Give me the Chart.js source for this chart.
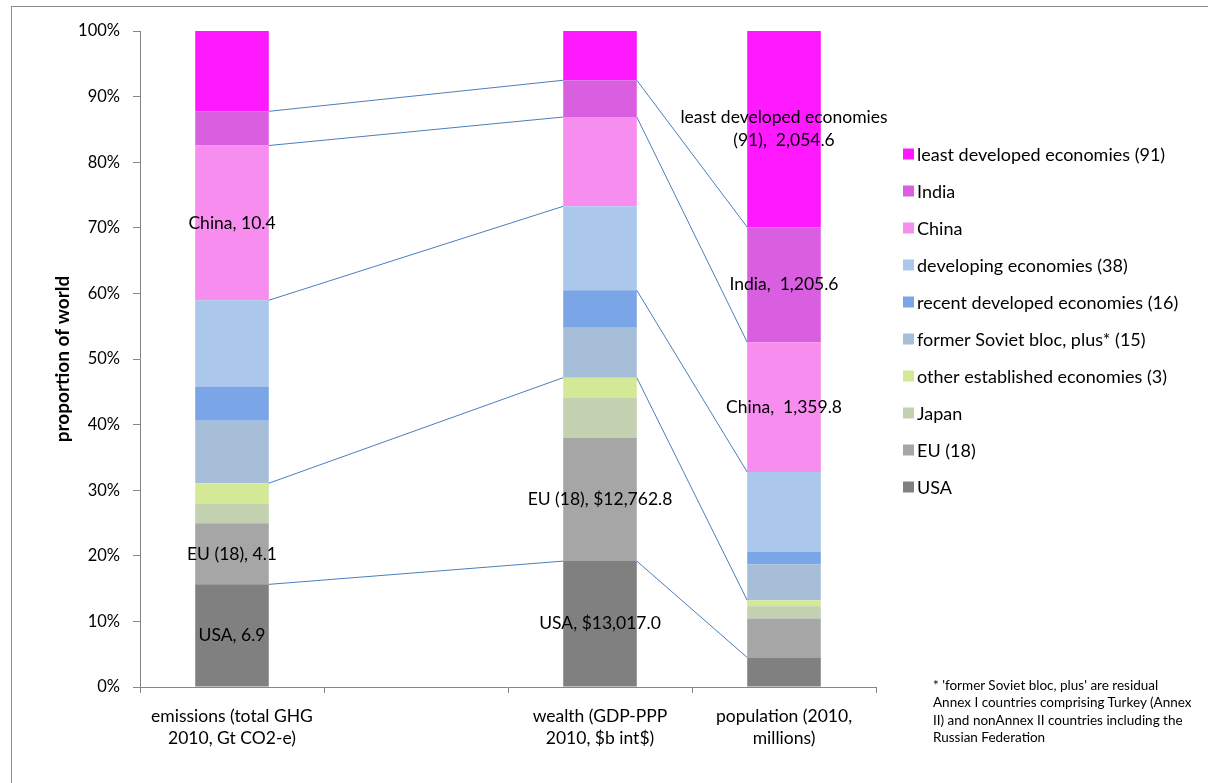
<!DOCTYPE html>
<html>
<head>
<meta charset="utf-8">
<script src="https://cdn.jsdelivr.net/npm/chart.js@4.4.1/dist/chart.umd.min.js"></script>
<style>
  html, body { margin: 0; padding: 0; background: #fff; }
  #wrap { position: relative; width: 1208px; height: 783px; overflow: hidden; }
  #frame { position: absolute; left: 11px; top: 6px; width: 1300px; height: 900px; border: 1px solid #8c8c8c; }
  #chart { position: absolute; left: 0; top: 0; }
  #note { position: absolute; left: 933px; top: 677px; font: 13.5px Lato, sans-serif; line-height: 17.4px; color: #000; white-space: nowrap; }
</style>
</head>
<body>
<div id="wrap">
  <div id="frame"></div>
  <canvas id="chart" width="1208" height="783"></canvas>
  <div id="note">* 'former Soviet bloc, plus' are residual<br>Annex I countries comprising Turkey (Annex<br>II) and nonAnnex II countries including the<br>Russian Federation</div>
</div>
<script>
// Three measures split by country group, each shown as a share of the world total.
// The second slot is left empty to open a gap between emissions and wealth.
const CATEGORIES = [
  ["emissions (total GHG", "2010, Gt CO2-e)"],
  "",
  ["wealth (GDP-PPP", "2010, $b int$)"],
  ["population (2010,", "millions)"],
];

// Groups from the bottom of each stack up.
const GROUPS = [
  "USA",
  "EU (18)",
  "Japan",
  "other established economies (3)",
  "former Soviet bloc, plus* (15)",
  "recent developed economies (16)",
  "developing economies (38)",
  "China",
  "India",
  "least developed economies (91)",
];
const COLORS = [
  "#808080", "#a6a6a6", "#c3d1b1", "#d4e996", "#a7bed8",
  "#7aa5e6", "#abc8ec", "#f68def", "#d95fe0", "#ff19ff",
];

// Raw values per group, same order as GROUPS.
const EMISSIONS = [6.9, 4.1, 1.3, 1.4, 4.2, 2.3, 5.8, 10.4, 2.3, 5.4];          // Gt CO2-e
const WEALTH = [13017.0, 12762.8, 4100, 2105, 5160, 3870, 8690, 9234, 3802, 5093]; // $b int$
const POPULATION = [309, 409, 128, 63, 378, 126, 839, 1359.8, 1205.6, 2054.6];   // millions

const COLUMNS = [EMISSIONS, null, WEALTH, POPULATION];
const FORMATS = [
  (v) => v.toFixed(1),
  null,
  (v) => "$" + v.toLocaleString("en-US", { minimumFractionDigits: 1, maximumFractionDigits: 1 }),
  (v) => " " + v.toLocaleString("en-US", { minimumFractionDigits: 1, maximumFractionDigits: 1 }),
];

// Segments that carry a value label: [group, column]
const LABELLED = [[0, 0], [1, 0], [7, 0], [0, 2], [1, 2], [7, 3], [8, 3], [9, 3]];

// Lines joining the top edge of a group in one column to another column:
// [fromColumn, fromGroup, toColumn, toGroup]
const LINKS = [
  [0, 0, 2, 0], [0, 3, 2, 3], [0, 6, 2, 6], [0, 7, 2, 7], [0, 8, 2, 8],
  [2, 0, 3, 0], [2, 3, 3, 3], [2, 5, 3, 6], [2, 7, 3, 7], [2, 8, 3, 8],
];

const FONT = "Lato";

const totals = COLUMNS.map((col) => (col ? col.reduce((a, b) => a + b, 0) : 0));
const datasets = GROUPS.map((name, g) => ({
  label: name,
  data: COLUMNS.map((col, c) => (col ? (col[g] / totals[c]) * 100 : null)),
  backgroundColor: COLORS[g],
  borderWidth: 0,
  categoryPercentage: 1,
  barPercentage: 0.4,
}));

function wrapText(ctx, text, maxWidth) {
  const words = text.split(" ");
  const lines = [];
  let line = "";
  words.forEach((w) => {
    const test = line ? line + " " + w : w;
    if (line && ctx.measureText(test).width > maxWidth) {
      lines.push(line);
      line = w;
    } else {
      line = test;
    }
  });
  if (line) lines.push(line);
  return lines;
}

const linksPlugin = {
  id: "links",
  afterDatasetsDraw(chart) {
    const { ctx } = chart;
    ctx.save();
    ctx.strokeStyle = "#4a7ebb";
    ctx.lineWidth = 1;
    LINKS.forEach(([c0, g0, c1, g1]) => {
      const a = chart.getDatasetMeta(g0).data[c0];
      const b = chart.getDatasetMeta(g1).data[c1];
      ctx.beginPath();
      ctx.moveTo(a.x + a.width / 2, a.y);
      ctx.lineTo(b.x - b.width / 2, b.y);
      ctx.stroke();
    });
    ctx.restore();
  },
};

const valueLabels = {
  id: "valueLabels",
  afterDatasetsDraw(chart) {
    const { ctx } = chart;
    ctx.save();
    ctx.font = `17.5px ${FONT}`;
    ctx.fillStyle = "#000";
    ctx.textAlign = "center";
    ctx.textBaseline = "middle";
    LABELLED.forEach(([g, c]) => {
      const bar = chart.getDatasetMeta(g).data[c];
      const text = `${GROUPS[g]}, ${FORMATS[c](COLUMNS[c][g])}`;
      const lines = wrapText(ctx, text, 225);
      const lh = 23;
      const cy = (bar.y + bar.base) / 2 - ((lines.length - 1) * lh) / 2;
      lines.forEach((l, i) => ctx.fillText(l, bar.x, cy + i * lh));
    });
    ctx.restore();
  },
};

// Legend on the right, top group first.
const sideLegend = {
  id: "sideLegend",
  afterDraw(chart) {
    const { ctx } = chart;
    ctx.save();
    ctx.font = `18px ${FONT}`;
    ctx.textBaseline = "middle";
    ctx.textAlign = "left";
    const x = 903, top = 154, step = 37;
    for (let i = GROUPS.length - 1, row = 0; i >= 0; i--, row++) {
      const y = top + row * step;
      ctx.fillStyle = COLORS[i];
      ctx.fillRect(x, y - 5.5, 11, 11);
      ctx.fillStyle = "#000";
      ctx.fillText(GROUPS[i], x + 14, y + 1);
    }
    ctx.restore();
  },
};

new Chart(document.getElementById("chart"), {
  type: "bar",
  data: { labels: CATEGORIES, datasets },
  options: {
    responsive: false,
    animation: false,
    layout: { padding: { top: 31, right: 332, bottom: 0, left: 0 } },
    plugins: { legend: { display: false }, tooltip: { enabled: false } },
    scales: {
      x: {
        stacked: true,
        grid: { drawOnChartArea: false, tickLength: 6, color: "#868686" },
        border: { color: "#868686" },
        ticks: { color: "#000", maxRotation: 0, padding: 12, font: { family: FONT, size: 17.5, lineHeight: 1.27 } },
        afterFit(scale) { scale.height = 96; },
      },
      y: {
        stacked: true,
        min: 0,
        max: 100,
        grid: { drawOnChartArea: false, tickLength: 7, color: "#868686" },
        border: { color: "#868686" },
        ticks: { stepSize: 10, color: "#000", padding: 13, font: { family: FONT, size: 16.5 }, callback: (v) => v + "%" },
        title: {
          display: true,
          text: "proportion of world",
          color: "#000",
          font: { family: FONT, size: 19, weight: "bold" },
          padding: { top: 51, bottom: 0 },
        },
        afterFit(scale) { scale.width = 140; },
      },
    },
  },
  plugins: [linksPlugin, valueLabels, sideLegend],
});
</script>
</body>
</html>
